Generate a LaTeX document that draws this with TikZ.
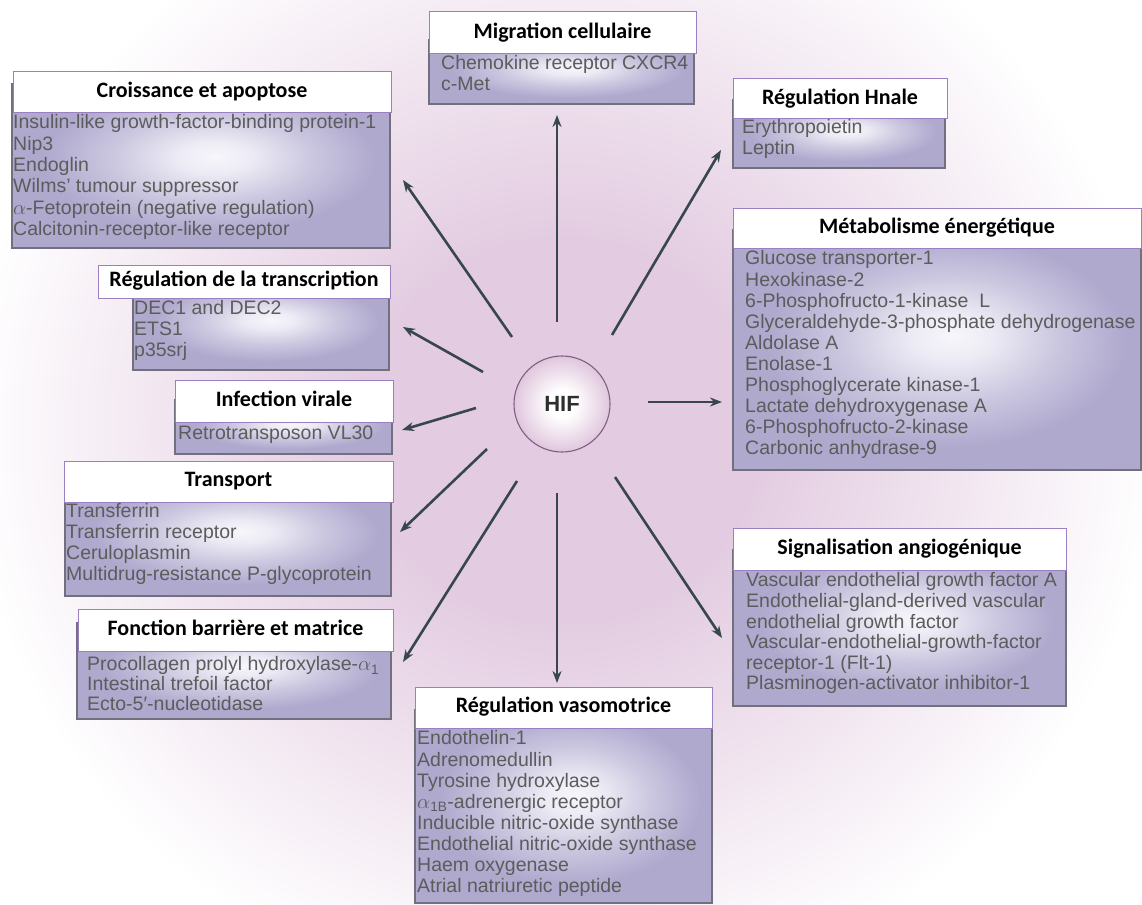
\documentclass[tikz,border=0pt]{standalone}
\usepackage{fontspec}
\setmainfont{Liberation Sans}
\newfontfamily\hdrfont{Carlito}
\usetikzlibrary{arrows.meta,fit}
\definecolor{glowc}{HTML}{E3CCE1}
\definecolor{boxin}{HTML}{F7F6FB}
\definecolor{boxout}{HTML}{AFA9CE}
\definecolor{boxedge}{HTML}{72707E}
\definecolor{hdredge}{HTML}{9A80C2}
\definecolor{txtg}{HTML}{5C5C5C}
\definecolor{arrc}{HTML}{38474F}
\definecolor{hifedge}{HTML}{7E6080}
\definecolor{hifout}{HTML}{E0C6DD}
\pgfdeclareradialshading{glow}{\pgfpoint{0bp}{0bp}}{color(0bp)=(glowc); color(8bp)=(glowc); color(16bp)=(glowc!50!white); color(24bp)=(white); color(50bp)=(white)}
\pgfdeclareradialshading{boxshade}{\pgfpoint{2bp}{3bp}}{color(0bp)=(boxin); color(5bp)=(boxin!85!boxout); color(13bp)=(boxin!40!boxout); color(22bp)=(boxout); color(50bp)=(boxout)}
\pgfdeclareradialshading{hifshade}{\pgfpoint{0bp}{0bp}}{color(0bp)=(white); color(7bp)=(white); color(25bp)=(hifout); color(50bp)=(hifout)}
\newcommand\catbox[4]{%
  \node[bodybox, fit={#3}] (#1B) {};
  \node[hdrbox, fit={#2}] (#1H) {};
  \node[hdrtxt] (#1T) at (#1H.center) {#4};}
\newcommand\blines[5]{%
  \foreach \t [count=\i] in {#5} {\node[btxt] (#1\i) at (#2,{#3+(\i-1)*#4}) {\t};}}
\begin{document}
\begin{tikzpicture}[x=1pt,y=-1pt,
  bodybox/.style={inner sep=0pt, draw=boxedge, line width=1.3pt, shade, shading=boxshade},
  hdrbox/.style={inner sep=0pt, draw=hdredge, line width=1pt, fill=white},
  hdrtxt/.style={inner sep=0pt, font=\hdrfont\bfseries\fontsize{22}{24}\selectfont, text=black, text height=15pt, text depth=4.5pt},
  btxt/.style={anchor=west, inner sep=0pt, text=txtg, font=\fontsize{19.5}{21}\selectfont, text height=14pt, text depth=4.2pt},
  arr/.style={draw=arrc, line width=2.6pt, -{Stealth[length=12pt,width=9pt]}}]
\useasboundingbox (0,0) rectangle (1142,904);
\fill[white] (0,0) rectangle (1142,904);
\begin{scope}
\clip (0,0) rectangle (1142,904);
\shade[shading=glow] (562,430) ellipse [x radius=620pt, y radius=600pt];
\end{scope}
% arrows
\coordinate (tNW) at (512,337); \coordinate (hNW) at (403,180);
\coordinate (tN) at (557,322);  \coordinate (hN) at (557,115);
\coordinate (tNE) at (612,335); \coordinate (hNE) at (721,150);
\coordinate (tTr) at (483,372); \coordinate (hTr) at (403,327);
\coordinate (tVi) at (476,408); \coordinate (hVi) at (402,430);
\coordinate (tTs) at (487,449); \coordinate (hTs) at (400,532);
\coordinate (tFo) at (517,481); \coordinate (hFo) at (403,662);
\coordinate (tS) at (557,493);  \coordinate (hS) at (557,683);
\coordinate (tSE) at (615,477); \coordinate (hSE) at (722,638);
\coordinate (tE) at (648,402);  \coordinate (hE) at (722,402);
\foreach \a in {NW,N,NE,Tr,Vi,Ts,Fo,S,SE,E} {\draw[arr] (t\a) -- (h\a);}
% HIF
\node[circle, minimum size=96pt, inner sep=0pt, draw=hifedge, line width=1.1pt, shade, shading=hifshade, font=\bfseries\fontsize{22}{22}\selectfont, text=black!82] (hif) at (562,404) {HIF};
% boxes
\catbox{croi}{(13,72) (391,113)}{(12,84) (390,248)}{Croissance et apoptose}
\blines{croi}{13}{124}{21.3}{Insulin-like growth-factor-binding protein-1, Nip3, Endoglin, Wilms’ tumour suppressor, $\alpha$-Fetoprotein (negative regulation), Calcitonin-receptor-like receptor}
\catbox{migr}{(429,12) (696,54)}{(429,40) (694,104)}{Migration cellulaire}
\blines{migr}{441}{65}{21}{Chemokine receptor CXCR4, c-Met}
\catbox{horm}{(733,79) (947,119)}{(733,100) (945,168)}{Régulation Hnale}
\blines{horm}{742}{129}{21}{Erythropoietin, Leptin}
\catbox{meta}{(733,208) (1141,248)}{(733,230) (1141,470)}{Métabolisme énergétique}
\blines{meta}{745}{260}{21.1}{Glucose transporter-1, Hexokinase-2, 6-Phosphofructo-1-kinase\ \ L, Glyceraldehyde-3-phosphate dehydrogenase, Aldolase A, Enolase-1, Phosphoglycerate kinase-1, Lactate dehydroxygenase A, 6-Phosphofructo-2-kinase, Carbonic anhydrase-9}
\catbox{tran}{(98,265) (390,298)}{(133,280) (389,370)}{Régulation de la transcription}
\blines{tran}{134}{310}{21}{DEC1 and DEC2, ETS1, p35srj}
\catbox{vir}{(175,380) (393,422)}{(175,400) (392,454)}{Infection virale}
\blines{vir}{178}{435}{21}{Retrotransposon VL30}
\catbox{trsp}{(64,461) (393,502)}{(65,480) (391,596)}{Transport}
\blines{trsp}{66}{513}{21}{Transferrin, Transferrin receptor, Ceruloplasmin, Multidrug-resistance P-glycoprotein}
\catbox{fonc}{(78,609) (393,651)}{(77,623) (391,719)}{Fonction barrière et matrice}
\blines{fonc}{87}{666}{20}{Procollagen prolyl hydroxylase-$\alpha$\textsubscript{1}, Intestinal trefoil factor, Ecto-5′-nucleotidase}
\catbox{vaso}{(415,687) (712,728)}{(415,710) (712,903)}{Régulation vasomotrice}
\blines{vaso}{417}{740}{21.1}{Endothelin-1, Adrenomedullin, Tyrosine hydroxylase, $\alpha$\textsubscript{1B}-adrenergic receptor, Inducible nitric-oxide synthase, Endothelial nitric-oxide synthase, Haem oxygenase, Atrial natriuretic peptide}
\catbox{sign}{(733,528) (1066,570)}{(733,550) (1066,706)}{Signalisation angiogénique}
\blines{sign}{746}{582}{20.6}{Vascular endothelial growth factor A, Endothelial-gland-derived vascular, endothelial growth factor, Vascular-endothelial-growth-factor, receptor-1 (Flt-1), Plasminogen-activator inhibitor-1}
\end{tikzpicture}
\end{document}
